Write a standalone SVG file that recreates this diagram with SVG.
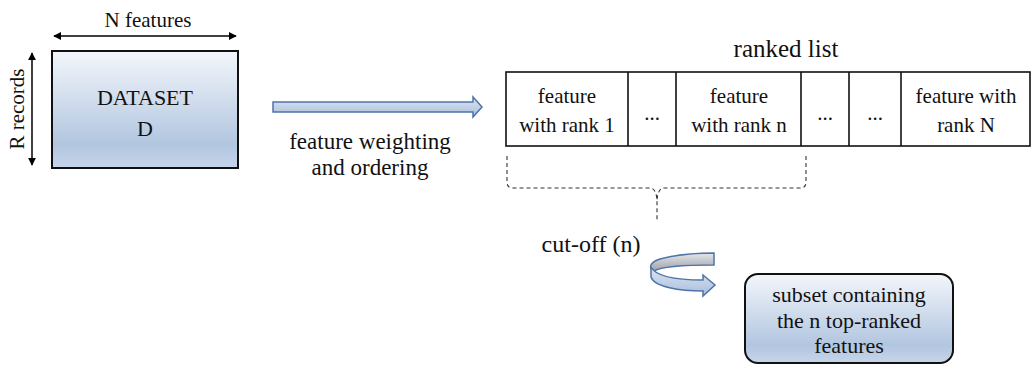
<svg xmlns="http://www.w3.org/2000/svg" width="1031" height="365" viewBox="0 0 1031 365">
  <defs>
    <linearGradient id="blueFill" x1="0" y1="0" x2="0" y2="1">
      <stop offset="0" stop-color="#f3f6fb"/>
      <stop offset="0.8" stop-color="#b2c6e0"/>
      <stop offset="1" stop-color="#c6d5ea"/>
    </linearGradient>
    <linearGradient id="arrowFill" x1="0" y1="0" x2="0" y2="1">
      <stop offset="0" stop-color="#dde6f2"/>
      <stop offset="1" stop-color="#a8bddb"/>
    </linearGradient>
    <linearGradient id="backFill" x1="0" y1="0" x2="0" y2="1">
      <stop offset="0" stop-color="#e4e6ea"/>
      <stop offset="1" stop-color="#9ea3ab"/>
    </linearGradient>
    <marker id="tri" viewBox="0 0 10 10" refX="9" refY="5" markerWidth="8" markerHeight="8" markerUnits="userSpaceOnUse" orient="auto-start-reverse">
      <path d="M0,0 L10,5 L0,10 Z" fill="#000"/>
    </marker>
    <style>
      text { fill: #111; text-anchor: middle; }
      .box { stroke: #111; stroke-width: 2; }
      .cell { fill: #fff; stroke: #111; stroke-width: 1.6; }
      .dim { stroke: #000; stroke-width: 1.5; fill: none; }
      .flow { stroke: #4f74a8; stroke-width: 1.5; stroke-linejoin: miter; }
      .brace { fill: none; stroke: #333; stroke-width: 1.1; stroke-dasharray: 4 3; }
    </style>
  </defs>

  <!-- all labels share the Times-metric serif face -->
  <g font-family="Liberation Serif, serif" font-style="normal">
  <g id="dataset">
    <rect class="box" x="52" y="51" width="186" height="117" fill="url(#blueFill)"/>
    <text x="145" y="105" font-size="22">DATASET</text>
    <text x="145" y="136" font-size="22">D</text>
  </g>
  <g id="n-features">
    <line class="dim" x1="54" y1="36" x2="236" y2="36" marker-start="url(#tri)" marker-end="url(#tri)"/>
    <text x="148" y="27" font-size="21">N features</text>
  </g>
  <g id="r-records">
    <line class="dim" x1="32" y1="53" x2="32" y2="165" marker-start="url(#tri)" marker-end="url(#tri)"/>
    <text transform="translate(24,109) rotate(-90)" font-size="21">R records</text>
  </g>

  <g id="ranked-list">
    <text x="786" y="57" font-size="25">ranked list</text>
    <rect class="cell" x="506" y="72" width="524" height="74"/>
    <line class="cell" x1="628" y1="72" x2="628" y2="146"/>
    <line class="cell" x1="676" y1="72" x2="676" y2="146"/>
    <line class="cell" x1="801" y1="72" x2="801" y2="146"/>
    <line class="cell" x1="849" y1="72" x2="849" y2="146"/>
    <line class="cell" x1="901" y1="72" x2="901" y2="146"/>
    <text x="567" y="103" font-size="21">feature</text>
    <text x="567" y="132" font-size="21">with rank 1</text>
    <text x="652" y="120" font-size="21">...</text>
    <text x="739" y="103" font-size="21">feature</text>
    <text x="739" y="132" font-size="21">with rank n</text>
    <text x="825" y="120" font-size="21">...</text>
    <text x="875" y="120" font-size="21">...</text>
    <text x="966" y="103" font-size="21">feature with</text>
    <text x="966" y="132" font-size="21">rank N</text>
  </g>

  <g id="subset">
    <rect class="box" x="745" y="274" width="208" height="89" rx="13" fill="url(#blueFill)"/>
    <text x="849" y="302" font-size="22">subset containing</text>
    <text x="849" y="328" font-size="22">the n top-ranked</text>
    <text x="849" y="353" font-size="22">features</text>
  </g>

  <g id="connectors">
    <!-- weighting / ordering step -->
    <path class="flow" fill="url(#arrowFill)" d="M273,102 L473,102 L473,97 L482,107 L473,117 L473,112 L273,112 Z"/>
    <text x="370" y="149" font-size="23">feature weighting</text>
    <text x="370" y="175" font-size="23">and ordering</text>

    <!-- cut-off brace over the first n cells -->
    <path class="brace" d="M507,156 L507,182 Q507,188 513,188 L650,188 Q656,188 657,200 L657,220"/>
    <path class="brace" d="M806,156 L806,182 Q806,188 800,188 L664,188 Q658,188 657,200"/>
    <text x="591" y="252" font-size="24">cut-off (n)</text>

    <!-- curved arrow toward the subset -->
    <path class="flow" fill="url(#backFill)" d="M714,253 L714,265 C690,265 662,266 654,271 C648,268 650,262 660,259 C675,255 695,253 714,253 Z"/>
    <path class="flow" fill="url(#arrowFill)" d="M651,267 L651,277 C654,287 680,291 703,291 L703,296 L715,285 L703,275 L703,280 C680,280 656,277 651,267 Z"/>
  </g>
  </g>
</svg>
